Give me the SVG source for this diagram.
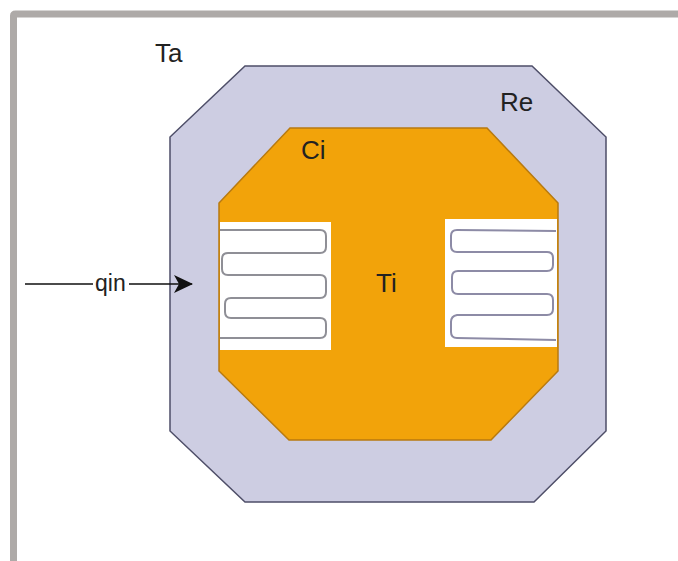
<svg xmlns="http://www.w3.org/2000/svg" width="678" height="561" viewBox="0 0 678 561">
<style>
text{font-family:"Liberation Sans",Arial,sans-serif;font-size:26px;fill:#222}
.coil{fill:none;stroke-width:2}
.win{fill:#fff;stroke:none}
</style>
<defs><marker id="a" markerWidth="22" markerHeight="20" refX="18" refY="9" orient="auto" markerUnits="userSpaceOnUse"><path d="M0 0L19 9L0 18L5 9Z" fill="#111"/></marker></defs>
<rect width="678" height="561" fill="#fff"/>
<g id="frame"><path d="M13.500 561V16Q13.500 14 15.500 14H678" fill="none" stroke="#aeaaa8" stroke-width="7"/></g>
<g id="refractory"><path d="M245 66H532L606 137V431L534 502H245L170 431V137Z" fill="#cdcde2" stroke="#4e4e68" stroke-width="1.500"/><text x="500" y="111">Re</text></g>
<g id="cavity"><path d="M290 128H487L558 203V371L491 440H289L219 371V203Z" fill="#f2a30a" stroke="#b87a10" stroke-width="1.500"/><text x="301" y="159">Ci</text><text x="376" y="292">Ti</text></g>
<g id="coil-left"><rect class="win" x="220" y="222" width="111" height="128"/><path class="coil" stroke="#8f8f96" d="M220 230H320Q326 230 326 236V247Q326 253 320 253H228Q222 253 222 259V269Q222 275 228 275H320Q326 275 326 281V292Q326 298 320 298H231Q225 298 225 304V312Q225 318 231 318H320Q326 318 326 324V332Q326 338 320 338H220"/></g>
<g id="coil-right"><rect class="win" x="445" y="219" width="112" height="128"/><path class="coil" stroke="#8d8ba6" d="M556 231L457 230Q451 230 451 236V246Q451 252 457 252H547Q553 252 553 258V265Q553 271 547 271H458Q452 271 452 277V288Q452 294 458 294H547Q553 294 553 300V309Q553 315 547 315H457Q451 316 451 322V332Q451 338 457 338L556 340"/></g>
<g id="label-ta"><text x="155" y="62">Ta</text></g>
<g id="connectors"><path d="M25 284H93M129 284H192" stroke="#111" stroke-width="1.500" fill="none" marker-end="url(#a)"/></g>
<g id="label-qin"><text x="95" y="291" style="font-size:23px">qin</text></g>
</svg>
